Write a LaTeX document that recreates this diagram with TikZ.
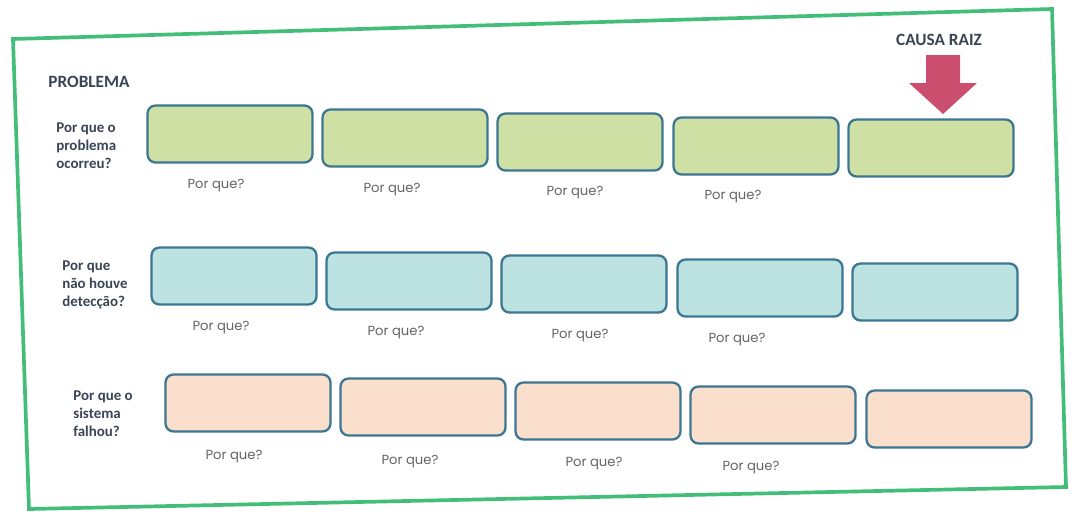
\documentclass[tikz,border=0pt]{standalone}
\usepackage{fontspec}
\setmainfont{Carlito}
\newfontfamily\roundfont{Poppins}
\usetikzlibrary{positioning}
\definecolor{frameGreen}{RGB}{66,190,120}
\definecolor{boxEdge}{RGB}{60,118,146}
\definecolor{fillGreen}{RGB}{206,224,164}
\definecolor{fillBlue}{RGB}{188,226,226}
\definecolor{fillPeach}{RGB}{249,223,204}
\definecolor{arrowRed}{RGB}{204,78,110}
\definecolor{labelInk}{RGB}{58,68,84}
\definecolor{whyInk}{RGB}{100,100,104}

\begin{document}
\begin{tikzpicture}[
    x=0.02cm, y=-0.02cm,
    whybox/.style={
        draw=boxEdge, line width=1.3pt, rounded corners=0.16cm,
        minimum width=3.3cm, minimum height=1.14cm, inner sep=0pt
    },
    why/.style={text=whyInk, font=\roundfont\fontsize{7.5}{8}\selectfont},
    question/.style={text=labelInk, align=left, anchor=west, inner sep=0pt,
        font=\bfseries\fontsize{8.5}{10.2}\selectfont},
    heading/.style={text=labelInk, font=\bfseries\fontsize{9.8}{11}\selectfont}
]
    \useasboundingbox (0,0) rectangle (1074,514);

    % frame
    \draw[frameGreen, line width=2.1pt] (13,39) -- (1052,9) -- (1066,487) -- (29,509) -- cycle;

    % headings
    \node[heading] (problema) at (89,82) {PROBLEMA};
    \node[heading] (causa) at (939,40) {CAUSA RAIZ};
    \fill[arrowRed] (926,55) -- (960,55) -- (960,83) -- (977,83) -- (943,114) -- (909,83) -- (926,83) -- cycle;

    % questions
    \node[question] (q1) at (56,146) {Por que o\\problema\\ocorreu?};
    \node[question] (q2) at (62,285) {Por que\\não houve\\detecção?};
    \node[question] (q3) at (73,414) {Por que o\\sistema\\falhou?};

    % row 1
    \node[whybox, fill=fillGreen] (a1) at (230,134) {};
    \node[whybox, fill=fillGreen] (a2) at (405,138) {};
    \node[whybox, fill=fillGreen] (a3) at (580,142) {};
    \node[whybox, fill=fillGreen] (a4) at (756,146) {};
    \node[whybox, fill=fillGreen] (a5) at (931,148) {};
    \node[why] (wa1) at (216,186) {Por que?};
    \node[why] (wa2) at (392,190) {Por que?};
    \node[why] (wa3) at (575,193) {Por que?};
    \node[why] (wa4) at (733,197) {Por que?};

    % row 2
    \node[whybox, fill=fillBlue] (b1) at (234,276) {};
    \node[whybox, fill=fillBlue] (b2) at (409,281) {};
    \node[whybox, fill=fillBlue] (b3) at (584,284) {};
    \node[whybox, fill=fillBlue] (b4) at (760,288) {};
    \node[whybox, fill=fillBlue] (b5) at (935,292) {};
    \node[why] (wb1) at (221,328) {Por que?};
    \node[why] (wb2) at (396,333) {Por que?};
    \node[why] (wb3) at (580,336) {Por que?};
    \node[why] (wb4) at (737,340) {Por que?};

    % row 3
    \node[whybox, fill=fillPeach] (c1) at (248,403) {};
    \node[whybox, fill=fillPeach] (c2) at (423,407) {};
    \node[whybox, fill=fillPeach] (c3) at (598,411) {};
    \node[whybox, fill=fillPeach] (c4) at (773,415) {};
    \node[whybox, fill=fillPeach] (c5) at (949,419) {};
    \node[why] (wc1) at (234,457) {Por que?};
    \node[why] (wc2) at (410,462) {Por que?};
    \node[why] (wc3) at (594,464) {Por que?};
    \node[why] (wc4) at (751,468) {Por que?};
\end{tikzpicture}
\end{document}
